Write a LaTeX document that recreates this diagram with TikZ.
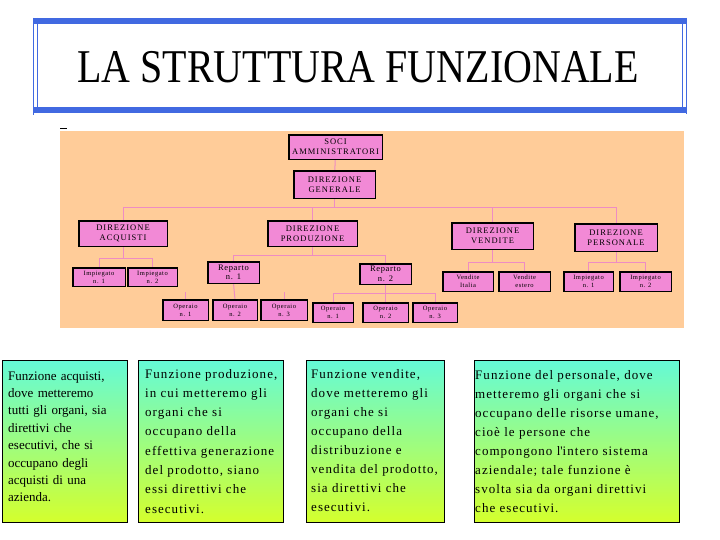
\documentclass[tikz,border=0pt]{standalone}
\usepackage{fontspec}
\usepackage{graphicx}
\setmainfont{Liberation Serif}
\newfontfamily\lsfont[LetterSpace=8]{Liberation Serif}
\newfontfamily\orgfont[LetterSpace=12]{Liberation Serif}
\newfontfamily\orgsmall[LetterSpace=8]{Liberation Serif}
\definecolor{frameblue}{RGB}{65,105,225}
\definecolor{peach}{RGB}{255,204,153}
\definecolor{orgpink}{RGB}{242,137,214}
\definecolor{linkpink}{RGB}{238,140,195}
\definecolor{aquatop}{RGB}{100,250,215}
\definecolor{yellowbot}{RGB}{212,255,45}
\tikzset{
  orgbox/.style={draw=black, line width=0.9pt, fill=orgpink, inner sep=0pt, align=center},
  bigbox/.style={orgbox, font=\orgfont\fontsize{8.5}{10}\selectfont},
  midbox/.style={orgbox, font=\orgsmall\fontsize{8.5}{9.5}\selectfont, minimum width=51, minimum height=21},
  smallbox/.style={orgbox, font=\orgsmall\fontsize{6.5}{8}\selectfont, minimum height=19},
  conn/.style={draw=linkpink, line width=1pt},
  fbox/.style={draw=black, line width=1pt, top color=aquatop, bottom color=yellowbot, inner sep=0pt},
  ftext/.style={anchor=base west, inner sep=0pt, align=left, text width=210},
}
\begin{document}
\begin{tikzpicture}[x=1pt,y=-1pt]
\useasboundingbox (0,0) rectangle (720,540);
\fill[white] (0,0) rectangle (720,540);

% title frame
\fill[frameblue] (33,18) rectangle (687,24);
\fill[frameblue] (33,107) rectangle (687,113);
\draw[frameblue, line width=0.9pt] (33.5,18) -- (33.5,115);
\draw[frameblue, line width=0.9pt] (37.5,18) -- (37.5,113);
\draw[frameblue, line width=0.9pt] (682.5,18) -- (682.5,113);
\draw[frameblue, line width=0.9pt] (686.5,18) -- (686.5,114);
\node (title) [anchor=base, inner sep=0pt, font=\fontsize{47}{50}\selectfont] at (358,83) {\scalebox{0.85}[1]{LA STRUTTURA FUNZIONALE}};

% org chart background
\fill[peach] (60,131) rectangle (684,328);
\draw[black, line width=0.8pt] (60,128.5) -- (67,128.5);

% org nodes
\node (soci) [bigbox, minimum width=93, minimum height=24] at (335.5,147) {SOCI\\AMMINISTRATORI};
\node (gen) [bigbox, minimum width=81, minimum height=27] at (334.5,184.5) {DIREZIONE\\GENERALE};
\node (acq) [bigbox, minimum width=88, minimum height=25] at (123,233.5) {DIREZIONE\\ACQUISTI};
\node (prod) [bigbox, minimum width=89, minimum height=25] at (312.5,233.5) {DIREZIONE\\PRODUZIONE};
\node (vend) [bigbox, minimum width=81, minimum height=26] at (492.5,236) {DIREZIONE\\VENDITE};
\node (pers) [bigbox, minimum width=82, minimum height=27] at (616,237.5) {DIREZIONE\\PERSONALE};

\node (ia1) [smallbox, minimum width=52, minimum height=18] at (99,277) {Impiegato\\n. 1};
\node (ia2) [smallbox, minimum width=49, minimum height=18] at (152.5,277) {Impiegato\\n. 2};
\node (rep1) [midbox] at (233.5,272.5) {Reparto\\n. 1};
\node (rep2) [midbox, minimum height=20] at (385.5,274) {Reparto\\n. 2};
\node (o11) [smallbox, minimum width=45, minimum height=20] at (185.5,310) {Operaio\\n. 1};
\node (o12) [smallbox, minimum width=44, minimum height=20] at (235,310) {Operaio\\n. 2};
\node (o13) [smallbox, minimum width=46, minimum height=20] at (284,310) {Operaio\\n. 3};
\node (o21) [smallbox, minimum width=40] at (333,312.5) {Operaio\\n. 1};
\node (o22) [smallbox, minimum width=45] at (385.5,312.5) {Operaio\\n. 2};
\node (o23) [smallbox, minimum width=44] at (435,312.5) {Operaio\\n. 3};
\node (vi) [smallbox, minimum width=50] at (468,281.5) {Vendite\\Italia};
\node (ve) [smallbox, minimum width=51] at (524.5,281.5) {Vendite\\estero};
\node (ip1) [smallbox, minimum width=49] at (588.5,281.5) {Impiegato\\n. 1};
\node (ip2) [smallbox, minimum width=51] at (645.5,281.5) {Impiegato\\n. 2};

% connectors
\coordinate (busD) at (334.5,208);
\coordinate (busA) at (123,258);
\coordinate (busP) at (312.5,255);
\coordinate (busR2) at (385.5,293);
\coordinate (busV) at (492.5,262);
\coordinate (busPe) at (616,262);
\coordinate (stub1) at (185.5,292);
\coordinate (stub3) at (284,292);
\draw[conn] (soci) -- (gen);
\draw[conn] (gen) -- (busD);
\draw[conn] (busD) -| (acq.north);
\draw[conn] (busD) -| (prod.north);
\draw[conn] (busD) -| (vend.north);
\draw[conn] (busD) -| (pers.north);
\draw[conn] (acq) -- (busA);
\draw[conn] (busA) -| (ia1.north);
\draw[conn] (busA) -| (ia2.north);
\draw[conn] (prod) -- (busP);
\draw[conn] (busP) -| (rep1.north);
\draw[conn] (busP) -| (rep2.north);
\draw[conn] (rep1.south) -- (o12.north);
\draw[conn] (stub1) -- (o11.north);
\draw[conn] (stub3) -- (o13.north);
\draw[conn] (rep2) -- (busR2);
\draw[conn] (busR2) -| (o21.north);
\draw[conn] (busR2) -| (o22.north);
\draw[conn] (busR2) -| (o23.north);
\draw[conn] (vend) -- (busV);
\draw[conn] (busV) -| (vi.north);
\draw[conn] (busV) -| (ve.north);
\draw[conn] (pers) -- (busPe);
\draw[conn] (busPe) -| (ip1.north);
\draw[conn] (busPe) -| (ip2.north);
% redraw box outlines over connectors
\foreach \n in {soci,gen,acq,prod,vend,pers,ia1,ia2,rep1,rep2,o11,o12,o13,o21,o22,o23,vi,ve,ip1,ip2}{
  \draw[black, line width=0.9pt] (\n.north west) rectangle (\n.south east);
}

% description boxes
\node (f1) [fbox, minimum width=125, minimum height=162] at (64.5,441) {};
\node (f2) [fbox, minimum width=145, minimum height=162] at (210.5,441) {};
\node (f3) [fbox, minimum width=138, minimum height=162] at (375,441) {};
\node (f4) [fbox, minimum width=205, minimum height=162] at (576.5,441) {};

\node (t1) [ftext, font=\fontsize{13}{17.4}\selectfont] at (8,380)
  {Funzione acquisti,\\dove metteremo\\tutti gli organi, sia\\direttivi che\\esecutivi, che si\\occupano degli\\acquisti di una\\azienda.};
\node (t2) [ftext, font=\lsfont\fontsize{13}{19.3}\selectfont] at (145,378)
  {Funzione produzione,\\in cui metteremo gli\\organi che si\\occupano della\\effettiva generazione\\del prodotto, siano\\essi direttivi che\\esecutivi.};
\node (t3) [ftext, font=\lsfont\fontsize{13}{19.1}\selectfont] at (311,378)
  {Funzione vendite,\\dove metteremo gli\\organi che si\\occupano della\\distribuzione e\\vendita del prodotto,\\sia direttivi che\\esecutivi.};
\node (t4) [ftext, font=\lsfont\fontsize{13}{19.1}\selectfont] at (475,379)
  {Funzione del personale, dove\\metteremo gli organi che si\\occupano delle risorse umane,\\cioè le persone che\\compongono l\textquotesingle intero sistema\\aziendale; tale funzione è\\svolta sia da organi direttivi\\che esecutivi.};
\end{tikzpicture}
\end{document}
